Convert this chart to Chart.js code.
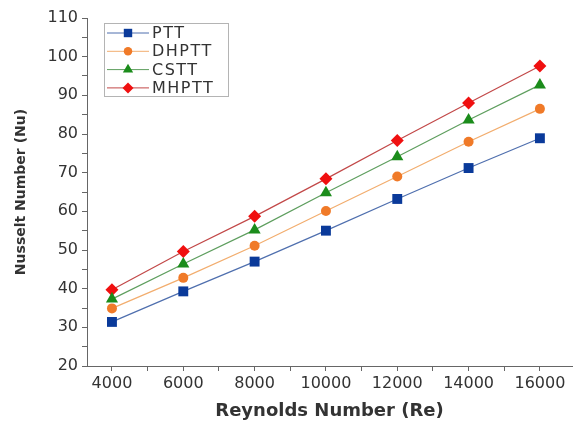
<!DOCTYPE html>
<html>
<head>
<meta charset="utf-8">
<script src="https://cdn.jsdelivr.net/npm/chart.js@4.4.0/dist/chart.umd.min.js"></script>
<style>
  html, body { margin: 0; padding: 0; background: #fff; }
  #wrap { width: 585px; height: 428px; }
</style>
</head>
<body>
<div id="wrap"><canvas id="nuChart" width="585" height="428"></canvas></div>
<script>
const reynolds = [4000, 6000, 8000, 10000, 12000, 14000, 16000];

const ptt   = [31.4, 39.3, 47.0, 55.0, 63.2, 71.2, 78.9];
const dhptt = [34.9, 42.8, 51.1, 60.1, 69.0, 78.0, 86.5];
const cstt  = [37.3, 46.4, 55.2, 64.8, 74.1, 83.6, 92.7];
const mhptt = [39.7, 49.6, 58.7, 68.4, 78.3, 88.0, 97.6];

const seriesNames = ["PTT", "DHPTT", "CSTT", "MHPTT"];

// x tick marks every 1000, labels only on the even thousands
const xTickValues = [4000, 5000, 6000, 7000, 8000, 9000, 10000, 11000, 12000, 13000, 14000, 15000, 16000];

const FONT = "'DejaVu Sans', 'Liberation Sans', sans-serif";

function pts(values) {
    return values.map((v, i) => ({ x: reynolds[i], y: v }));
}

// legend box drawn inside the plot, like the original figure
const boxLegend = {
    id: "boxLegend",
    afterDraw(chart) {
        const ctx = chart.ctx;
        const x0 = 104, y0 = 23, w = 124, h = 73;
        ctx.save();
        ctx.fillStyle = "#fff";
        ctx.fillRect(x0, y0, w, h);
        ctx.strokeStyle = "#b4b4b4";
        ctx.lineWidth = 1;
        ctx.strokeRect(x0 + 0.5, y0 + 0.5, w, h);
        chart.data.datasets.forEach((ds, i) => {
            const y = 33 + i * 18.3;
            ctx.strokeStyle = ds.borderColor;
            ctx.lineWidth = 1;
            ctx.beginPath();
            ctx.moveTo(107, y);
            ctx.lineTo(149, y);
            ctx.stroke();
            ctx.fillStyle = ds.pointBackgroundColor;
            ctx.strokeStyle = ds.pointBackgroundColor;
            Chart.helpers.drawPoint(ctx, {
                pointStyle: ds.pointStyle,
                radius: ds.pointRadius * 0.85,
                rotation: 0,
                borderWidth: 0
            }, 128, y);
            ctx.fillStyle = "#333";
            ctx.font = "16px " + FONT;
            ctx.letterSpacing = "1.5px";
            ctx.textBaseline = "middle";
            ctx.textAlign = "left";
            ctx.fillText(ds.label, 152, y + 1);
            ctx.letterSpacing = "0px";
        });
        ctx.restore();
    }
};

function series(label, values, line, fill, style, r) {
    return {
        label: label,
        data: pts(values),
        borderColor: line,
        borderWidth: 1.2,
        pointStyle: style,
        pointRadius: r,
        pointBackgroundColor: fill,
        pointBorderColor: fill,
        pointBorderWidth: 0,
        fill: false,
        tension: 0
    };
}

new Chart(
    document.getElementById("nuChart"),
    {
        type: "line",
        data: {
            datasets: [
                series(seriesNames[0], ptt,   "#4f6fae", "#0a3a9a", "rect", 7),
                series(seriesNames[1], dhptt, "#f2ad6e", "#f07a28", "circle", 5),
                series(seriesNames[2], cstt,  "#5e9e5e", "#1b8c1b", "triangle", 7),
                series(seriesNames[3], mhptt, "#c24848", "#f01010", "rectRot", 6.5)
            ]
        },
        options: {
            responsive: false,
            animation: false,
            layout: { padding: { top: 18, right: 13, left: 0, bottom: 0 } },
            plugins: {
                legend: { display: false },
                tooltip: { enabled: false }
            },
            scales: {
                x: {
                    type: "linear",
                    min: 3300,
                    max: 16900,
                    afterBuildTicks: s => {
                        s.ticks = xTickValues.map(v => ({ value: v }));
                    },
                    afterFit: s => { s.height = 62; },
                    ticks: {
                        autoSkip: false,
                        maxRotation: 0,
                        color: "#333",
                        font: { family: FONT, size: 16 },
                        padding: 3,
                        callback: v => (v % 2000 === 0 ? String(v) : "")
                    },
                    grid: {
                        drawOnChartArea: false,
                        drawTicks: true,
                        tickLength: 5,
                        color: "#666"
                    },
                    border: { display: true, color: "#666", width: 1 },
                    title: {
                        display: true,
                        text: "Reynolds Number (Re)",
                        color: "#333",
                        font: { family: FONT, size: 18, weight: "bold" },
                        padding: { top: 0, bottom: 6 }
                    }
                },
                y: {
                    min: 20,
                    max: 110,
                    afterFit: s => { s.width = 87; },
                    ticks: {
                        stepSize: 5,
                        autoSkip: false,
                        color: "#333",
                        font: { family: FONT, size: 16 },
                        padding: 4,
                        callback: v => (v % 10 === 0 ? String(v) : "")
                    },
                    grid: {
                        drawOnChartArea: false,
                        drawTicks: true,
                        tickLength: 5,
                        color: "#666"
                    },
                    border: { display: true, color: "#666", width: 1 },
                    title: {
                        display: true,
                        text: "Nusselt Number (Nu)",
                        color: "#333",
                        font: { family: FONT, size: 14, weight: "bold" },
                        padding: { top: 13, bottom: 0 }
                    }
                }
            }
        },
        plugins: [boxLegend]
    }
);
</script>
</body>
</html>
